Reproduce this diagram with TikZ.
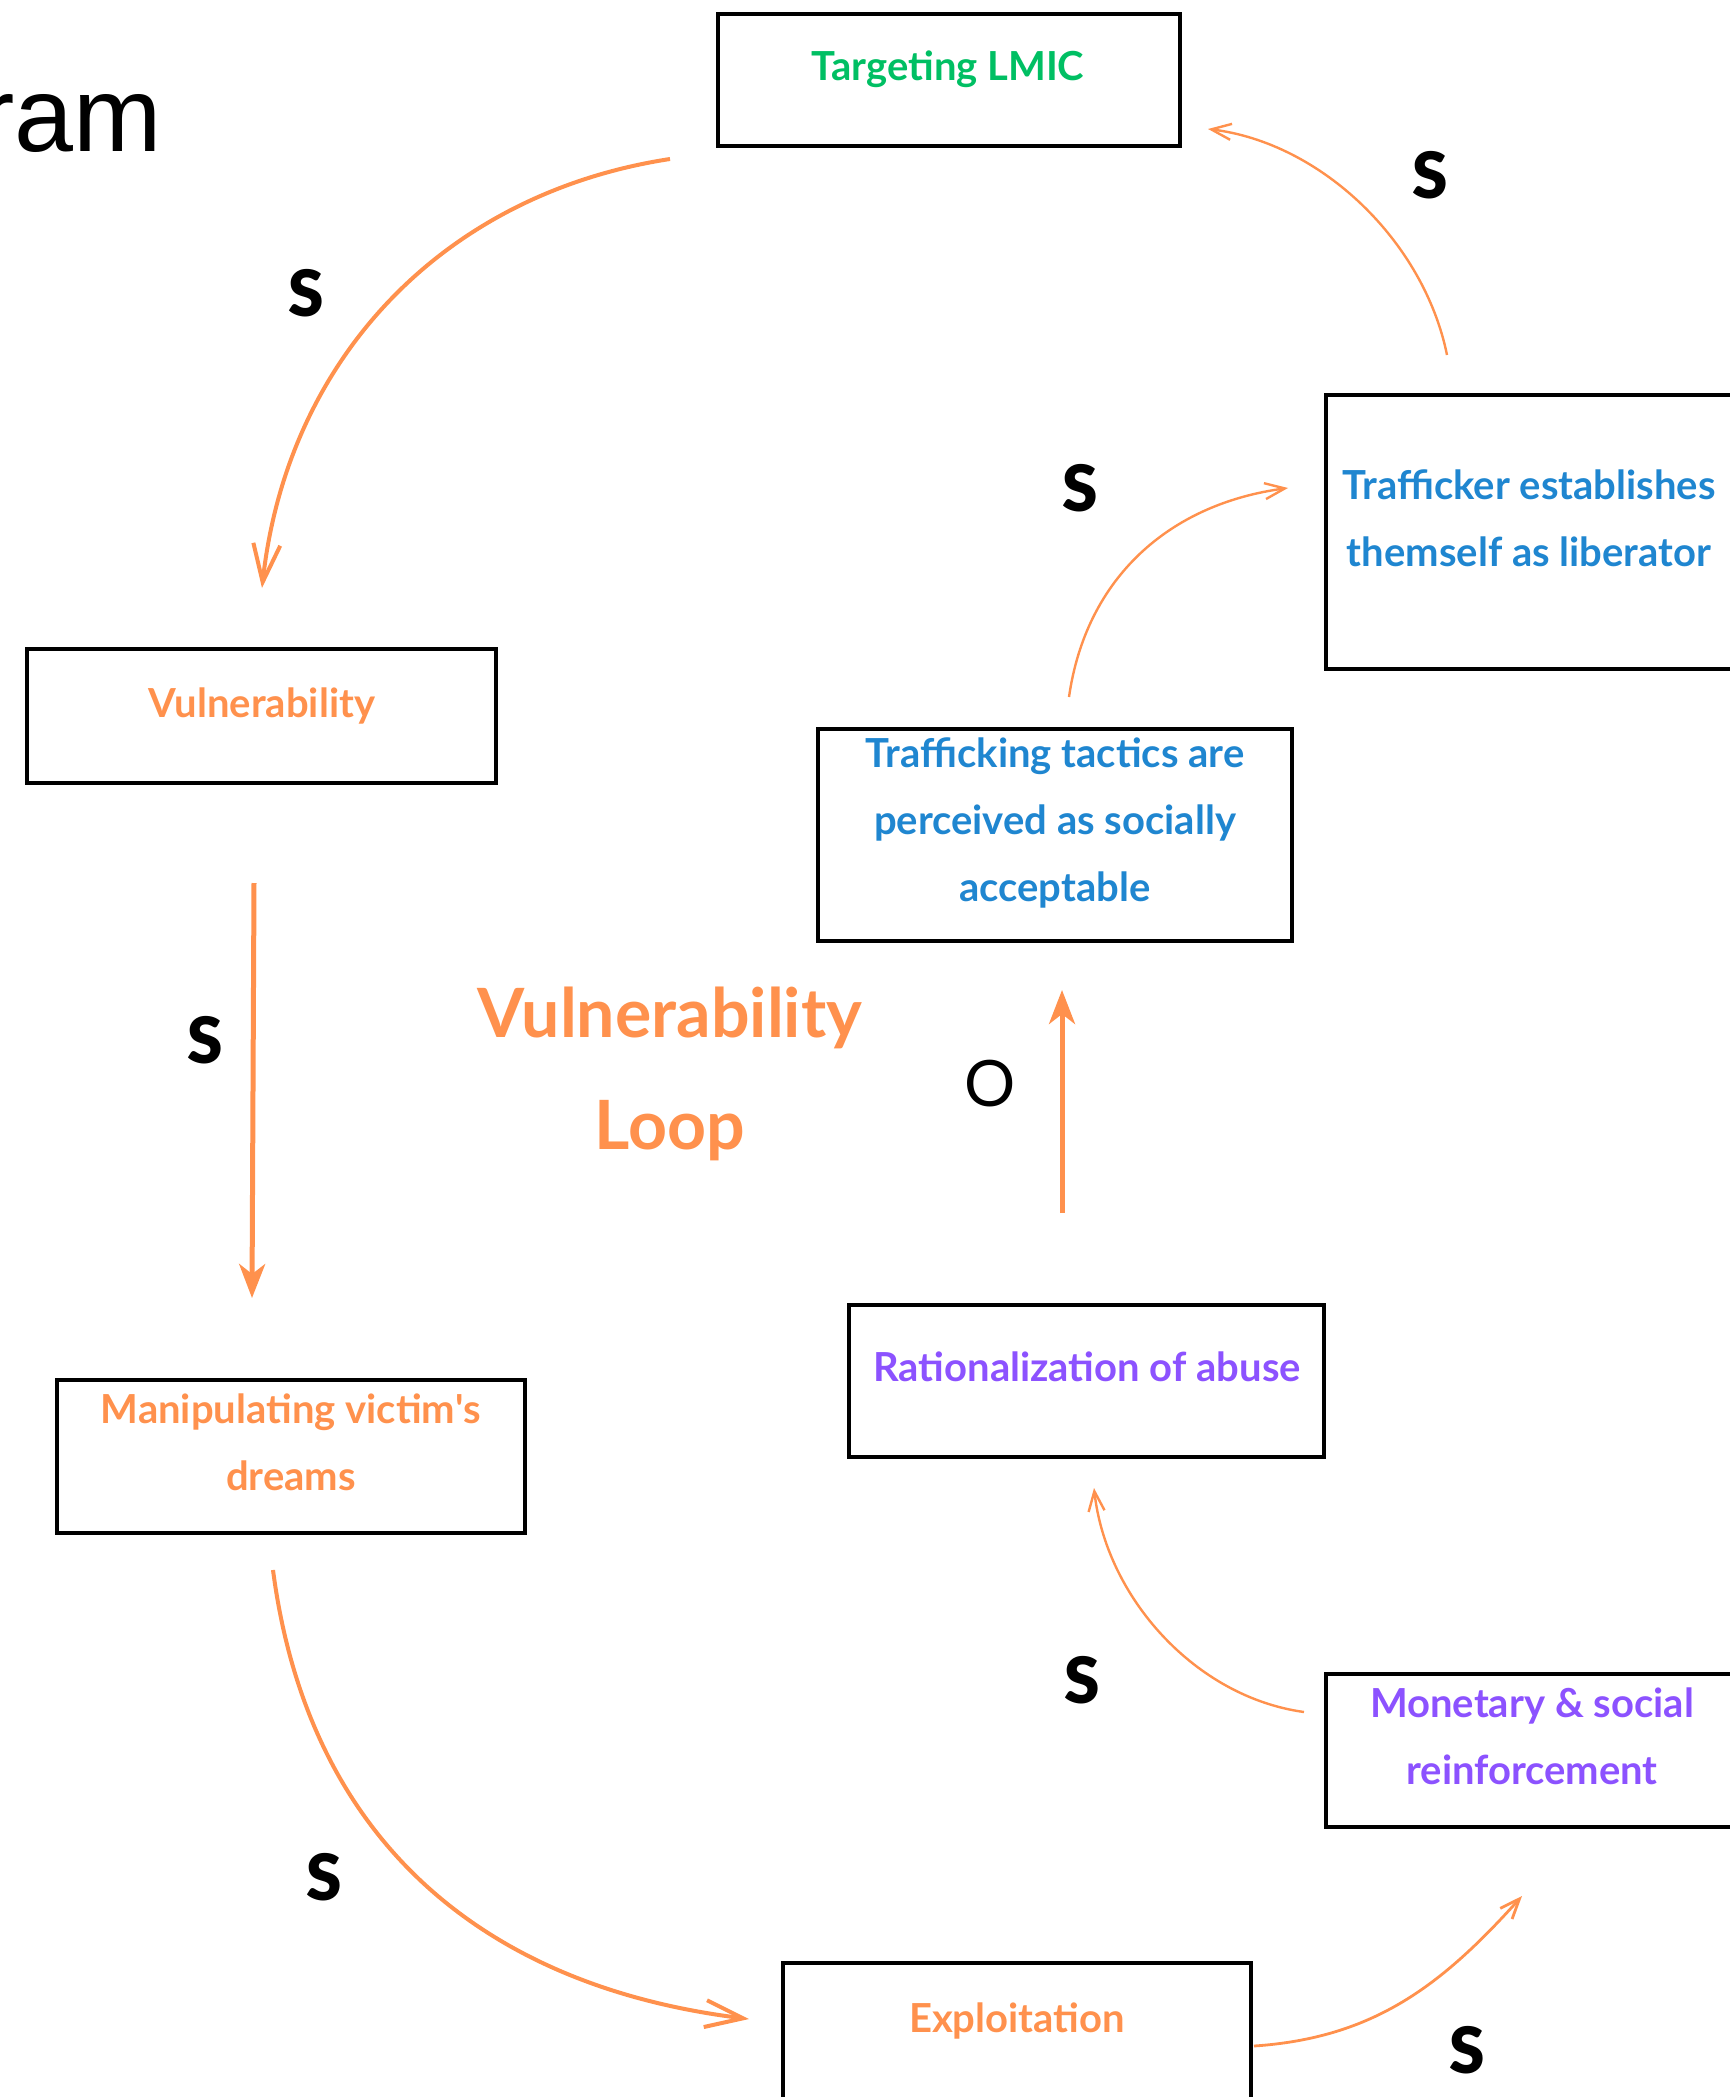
\documentclass[tikz,border=0pt]{standalone}
\usepackage{fontspec}
\setmainfont{Lato}
\newfontfamily\headfont{Liberation Sans}
\IfFontExistsTF{Lato Black}{\newfontfamily\polfont{Lato Black}}{\newfontfamily\polfont{Lato}[UprightFont=*-Bold]}
\usetikzlibrary{arrows.meta}

\definecolor{loopor}{HTML}{FF914D}
\definecolor{lmicgreen}{HTML}{00BF63}
\definecolor{libblue}{HTML}{1F86D0}
\definecolor{abusepurple}{HTML}{8C52FF}

\begin{document}
\begin{tikzpicture}[x=0.5pt, y=-0.5pt,
  box/.style={draw=black, line width=2pt, inner sep=0pt},
  boxtext/.style={anchor=base, align=center, inner sep=0pt, font=\bfseries\fontsize{20pt}{33.5pt}\selectfont},
  pol/.style={inner sep=0pt, font=\polfont\fontsize{32pt}{36pt}\selectfont},
  biglink/.style={draw=loopor, line width=2pt, -{Straight Barb[length=19pt, width=13.5pt]}},
  stemlink/.style={draw=loopor, line width=2.5pt, -{Stealth[length=17pt, width=13pt, inset=5pt]}},
  thinlink/.style={draw=loopor, line width=1.2pt, -{Straight Barb[length=10pt, width=8pt]}}]
\useasboundingbox (0,0) rectangle (1729,2097);

% Titel (abgeschnitten)
\node[anchor=base east, inner sep=0pt, font=\headfont\fontsize{53pt}{60pt}\selectfont] (ttl) at (162,152) {ram};

% Kaesten
\node[box, minimum width=231pt, minimum height=66pt] (tgt) at (949,80.5) {};
\node[box, minimum width=234.5pt, minimum height=67pt] (vul) at (261.5,715.5) {};
\node[box, minimum width=226pt, minimum height=137pt] (lib) at (1552,532) {};
\node[box, minimum width=237pt, minimum height=106pt] (tac) at (1055,835) {};
\node[box, minimum width=234pt, minimum height=76.5pt] (man) at (291,1456.5) {};
\node[box, minimum width=237.5pt, minimum height=76pt] (rat) at (1086.5,1381) {};
\node[box, minimum width=226pt, minimum height=76.5pt] (mon) at (1552,1750.5) {};
\node[box, minimum width=234pt, minimum height=82.5pt] (exp) at (1017,2045.5) {};

% Texte in den Kaesten (Grundlinie der letzten Zeile)
\node[boxtext, text=lmicgreen] (ttgt) at (948,81) {Targeting LMIC};
\node[boxtext, text=loopor] (tvul) at (262,717) {Vulnerability};
\node[boxtext, text=libblue] (tlib) at (1529,566) {Trafficker establishes\\themself as liberator};
\node[boxtext, text=libblue] (ttac) at (1055,901) {Trafficking tactics are\\perceived as socially\\acceptable};
\node[boxtext, text=loopor] (tman) at (291,1490) {Manipulating victim\textquotesingle s\\dreams};
\node[boxtext, text=abusepurple] (trat) at (1087,1381) {Rationalization of abuse};
\node[boxtext, text=abusepurple] (tmon) at (1532,1784) {Monetary \& social\\reinforcement};
\node[boxtext, text=loopor] (texp) at (1017,2032) {Exploitation};

% Name der Schleife
\node[anchor=base, align=center, inner sep=0pt, text=loopor, font=\bfseries\fontsize{34pt}{56pt}\selectfont] (loop) at (670,1149) {Vulnerability\\Loop};

% Enden der Pfeile
\coordinate (a1) at (670,159);   \coordinate (a2) at (262,588);
\coordinate (b1) at (254,883);   \coordinate (b2) at (252,1298);
\coordinate (c1) at (273,1570);  \coordinate (c2) at (749,2019);
\coordinate (e1) at (1254,2046); \coordinate (e2) at (1522,1896);
\coordinate (f1) at (1304,1712); \coordinate (f2) at (1094,1488);
\coordinate (d1) at (1062,1213); \coordinate (d2) at (1062,990);
\coordinate (g1) at (1069,697);  \coordinate (g2) at (1288,488);
\coordinate (h1) at (1447,355);  \coordinate (h2) at (1208,129);

% Pfeile
\draw[biglink] (a1) .. controls (442,194) and (287,360) .. (a2);
\draw[stemlink] (b1) -- (b2);
\draw[biglink] (c1) .. controls (308,1838) and (481,1986) .. (c2);
\draw[thinlink, line width=1.4pt] (e1) .. controls (1374,2038) and (1442,1985) .. (e2);
\draw[thinlink] (f1) .. controls (1195,1697) and (1106,1597) .. (f2);
\draw[stemlink] (d1) -- (d2);
\draw[thinlink] (g1) .. controls (1086,578) and (1169,504) .. (g2);
\draw[thinlink] (h1) .. controls (1424,242) and (1322,143) .. (h2);

% Polaritaeten
\node[pol] (s1) at (306,293) {S};
\node[pol] (s2) at (205,1040) {S};
\node[pol] (s3) at (324,1877) {S};
\node[pol] (s4) at (1467,2050) {S};
\node[pol] (s5) at (1082,1680) {S};
\node[pol, font=\fontsize{32pt}{36pt}\selectfont] (o1) at (990,1084) {O};
\node[pol] (s6) at (1080,488) {S};
\node[pol] (s7) at (1430,175) {S};

\end{tikzpicture}
\end{document}
